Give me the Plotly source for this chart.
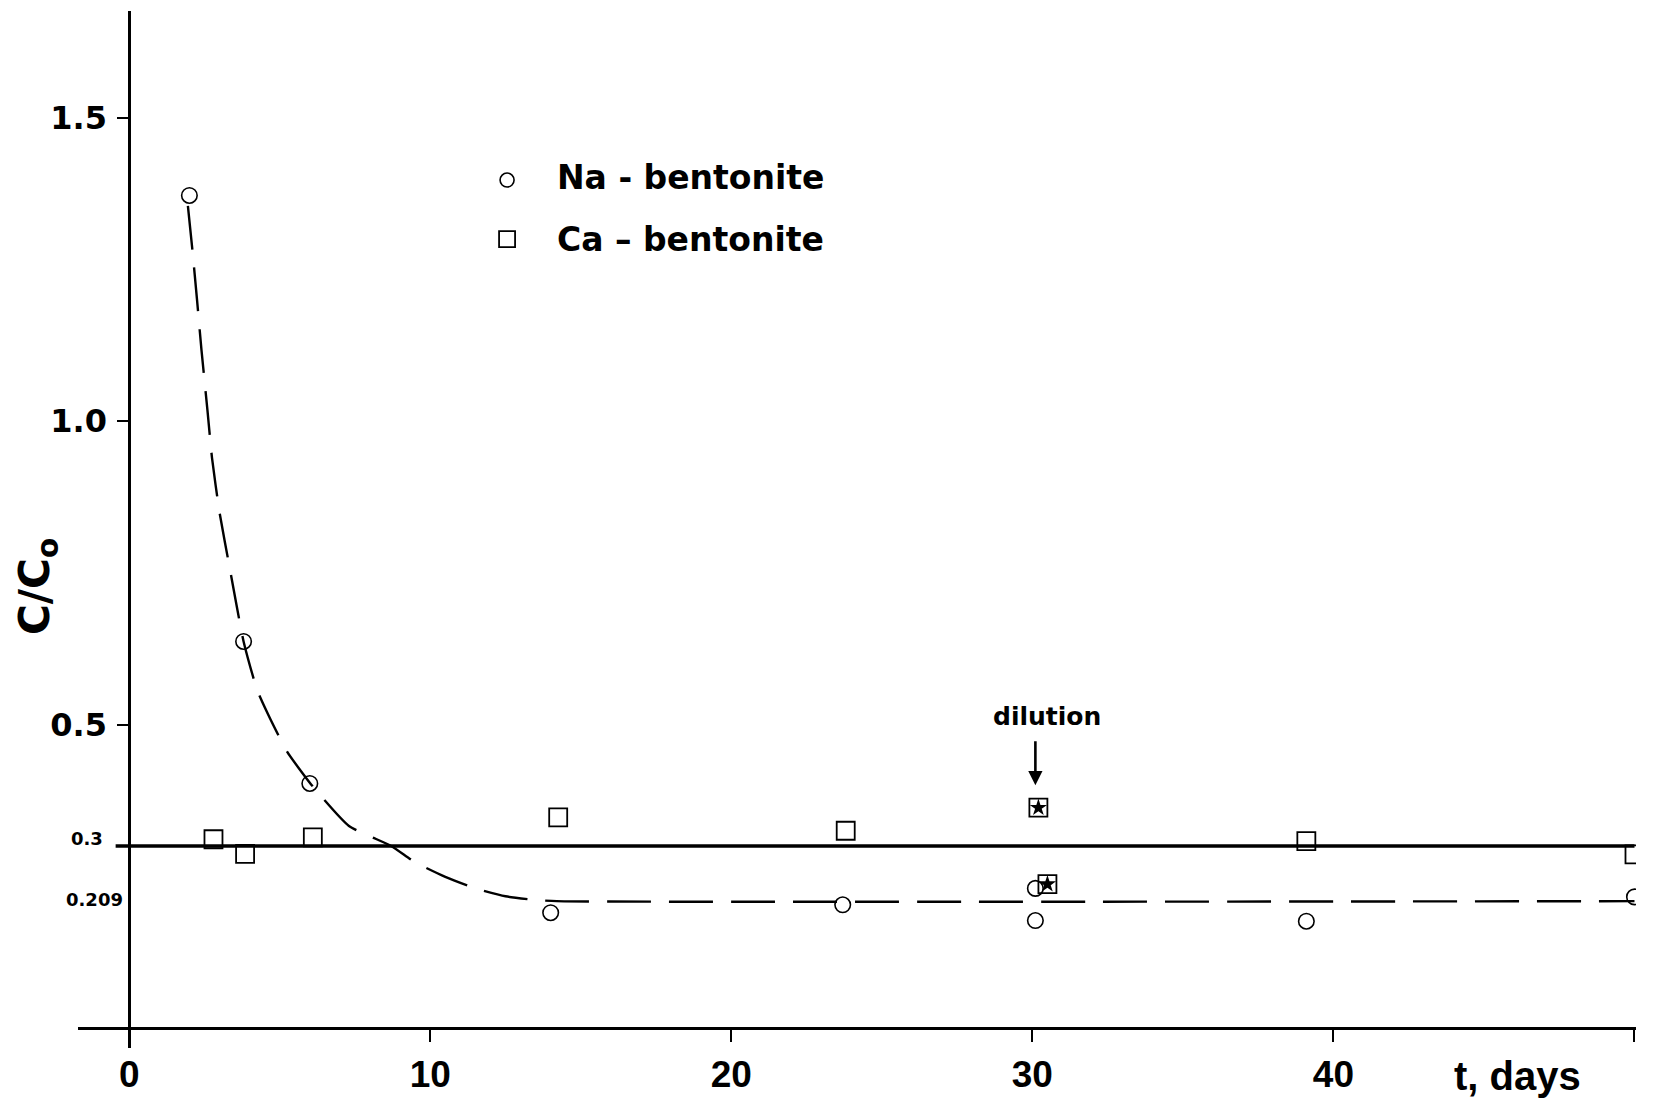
import plotly.graph_objects as go

# Relative concentration C/Co versus time (days)

# Na-bentonite measurements
na_t = [2.0, 3.8, 6.0, 14.0, 23.7, 30.1, 30.1, 39.1, 50.0]
na_c = [1.372, 0.637, 0.403, 0.190, 0.203, 0.230, 0.177, 0.176, 0.216]

# Ca-bentonite measurements
ca_t = [2.8, 3.85, 6.1, 14.25, 23.8, 39.1, 50.0]
ca_c = [0.311, 0.287, 0.314, 0.347, 0.325, 0.308, 0.286]

# Ca-bentonite samples around the dilution step
ca_dil_t = [30.2, 30.5]
ca_dil_c = [0.363, 0.237]

# Fitted curves
na_fit_t = [1.95, 2.1, 2.25, 2.4, 2.6, 2.75, 3.0, 3.35, 3.8, 4.25, 4.7, 5.25,
            6.05, 7.3, 8.7, 9.5, 10.5, 11.5, 12.5, 13.5, 14.2, 50.0]
na_fit_c = [1.355, 1.282, 1.202, 1.118, 1.018, 0.94, 0.85, 0.755, 0.637, 0.557,
            0.508, 0.455, 0.401, 0.333, 0.300, 0.273, 0.249, 0.230, 0.217,
            0.211, 0.209, 0.209]
ca_fit_t = [-0.45, 50.0]
ca_fit_c = [0.3, 0.3]

# Axis ticks
x_tickvals = [0, 10, 20, 30, 40, 50]
x_ticktext = ["0", "10", "20", "30", "40", ""]
y_tickvals = [0.5, 1.0, 1.5]
y_ticktext = ["0.5", "1.0", "1.5"]

T_MIN, T_MAX = -1.7, 50.05
C_MIN, C_MAX = -0.033, 1.676

BOLD = "DejaVu Sans"
HELV = "Liberation Sans, Arial, Helvetica"

fig = go.Figure()

fig.add_trace(go.Scatter(
    x=ca_fit_t, y=ca_fit_c, mode="lines",
    line=dict(color="black", width=3.4),
    hoverinfo="skip", showlegend=False))

fig.add_trace(go.Scatter(
    x=na_fit_t, y=na_fit_c, mode="lines",
    line=dict(color="black", width=2.4, dash="44px,18px",
              shape="spline", smoothing=0.5),
    hoverinfo="skip", showlegend=False))

fig.add_trace(go.Scatter(
    x=na_t, y=na_c, mode="markers", name="Na - bentonite",
    marker=dict(symbol="circle-open", size=15.5, color="black",
                line=dict(width=1.6)),
    showlegend=False))

fig.add_trace(go.Scatter(
    x=ca_t, y=ca_c, mode="markers", name="Ca – bentonite",
    marker=dict(symbol="square-open", size=18, color="black",
                line=dict(width=1.8)),
    showlegend=False))

fig.add_trace(go.Scatter(
    x=ca_dil_t, y=ca_dil_c, mode="markers", name="Ca – bentonite (dilution)",
    marker=dict(symbol="square-open", size=18, color="black",
                line=dict(width=1.8)),
    showlegend=False))
fig.add_trace(go.Scatter(
    x=ca_dil_t, y=ca_dil_c, mode="markers", name="dilution",
    marker=dict(symbol="star", size=13, color="black", line=dict(width=0)),
    showlegend=False))

x_pos = (0 - C_MIN) / (C_MAX - C_MIN)
y_pos = (0 - T_MIN) / (T_MAX - T_MIN)

fig.update_layout(
    width=1657, height=1101, autosize=False,
    margin=dict(l=78, r=21, t=11, b=53, autoexpand=False),
    paper_bgcolor="white", plot_bgcolor="white",
    showlegend=False,
    xaxis=dict(
        range=[T_MIN, T_MAX], domain=[0, 1], anchor="free", position=x_pos,
        automargin=False,
        showline=True, linecolor="black", linewidth=2.5,
        ticks="outside", ticklen=12, tickwidth=2.2, tickcolor="black",
        tickvals=x_tickvals, ticktext=x_ticktext,
        tickfont=dict(family=HELV, size=37, color="black", weight="bold"),
        ticklabelstandoff=1,
        showgrid=False, zeroline=False),
    yaxis=dict(
        range=[C_MIN, C_MAX], domain=[0, 1], anchor="free", position=y_pos,
        automargin=False,
        showline=True, linecolor="black", linewidth=2.5,
        ticks="outside", ticklen=11, tickwidth=2.0, tickcolor="black",
        tickvals=y_tickvals, ticktext=y_ticktext,
        tickfont=dict(family=BOLD, size=32, color="black", weight="bold"),
        ticklabelstandoff=4,
        showgrid=False, zeroline=False),
)

annotations = [
    dict(x=0, y=0.3, xref="x", yref="y", text="0.3", showarrow=False,
         xanchor="right", yanchor="middle", xshift=-24, yshift=7,
         font=dict(family=BOLD, size=18, color="black", weight="bold")),
    dict(x=0, y=0.209, xref="x", yref="y", text="0.209", showarrow=False,
         xanchor="right", yanchor="middle", xshift=-4, yshift=2,
         font=dict(family=BOLD, size=18, color="black", weight="bold")),
    dict(x=46.1, y=0, xref="x", yref="y", text="t, days", showarrow=False,
         xanchor="center", yanchor="middle", yshift=-48,
         font=dict(family=HELV, size=40, color="black", weight="bold")),
    dict(x=-0.0263, y=0.4445, xref="paper", yref="paper",
         text="C/C<sub>o</sub>", showarrow=False, textangle=-90,
         xanchor="center", yanchor="middle",
         font=dict(family=BOLD, size=42, color="black", weight="bold")),
    dict(x=0.3062, y=0.8394, xref="paper", yref="paper",
         text="Na - bentonite", showarrow=False,
         xanchor="left", yanchor="middle",
         font=dict(family=BOLD, size=33, color="black", weight="bold")),
    dict(x=0.3062, y=0.780, xref="paper", yref="paper",
         text="Ca – bentonite", showarrow=False,
         xanchor="left", yanchor="middle",
         font=dict(family=BOLD, size=33, color="black", weight="bold")),
    dict(x=30.47, y=0.513, xref="x", yref="y", text="dilution",
         showarrow=False, xanchor="center", yanchor="middle",
         font=dict(family=BOLD, size=25, color="black", weight="bold")),
    dict(x=30.1, y=0.40, xref="x", yref="y", ax=30.1, ay=0.475,
         axref="x", ayref="y", text="", showarrow=True,
         arrowhead=2, arrowsize=1.1, arrowwidth=2.6, arrowcolor="black"),
]
fig.update_layout(annotations=annotations)

# Legend symbols
fig.update_layout(shapes=[
    dict(type="circle", xref="paper", yref="paper",
         xsizemode="pixel", ysizemode="pixel",
         xanchor=0.2754, yanchor=0.837, x0=-7, x1=7, y0=-7, y1=7,
         line=dict(color="black", width=1.6)),
    dict(type="rect", xref="paper", yref="paper",
         xsizemode="pixel", ysizemode="pixel",
         xanchor=0.2754, yanchor=0.780, x0=-8, x1=8, y0=-8, y1=8,
         line=dict(color="black", width=1.8)),
])

fig.write_html("out.html")
